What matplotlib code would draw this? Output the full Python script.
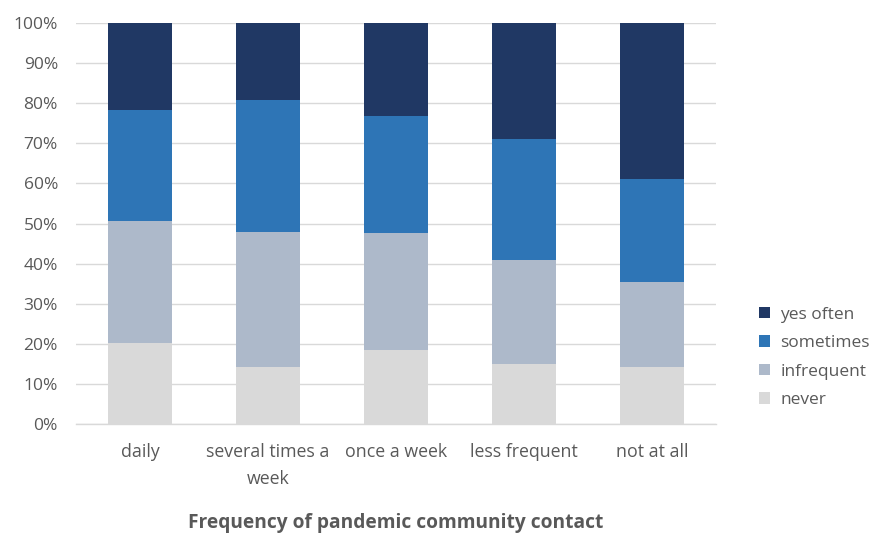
import numpy as np
import matplotlib.pyplot as plt

plt.rcParams['font.family'] = ['Open Sans', 'DejaVu Sans']

categories = ['daily', 'several times a\nweek', 'once a week', 'less frequent', 'not at all']
never = [20.1, 14.2, 18.4, 14.9, 14.2]
infrequent = [30.4, 33.8, 29.2, 26.0, 21.1]
sometimes = [27.8, 32.8, 29.2, 30.2, 25.8]
yes_often = [21.7, 19.2, 23.2, 28.9, 38.9]

series = [('never', never, '#D9D9D9'),
          ('infrequent', infrequent, '#ADB9CA'),
          ('sometimes', sometimes, '#2E75B6'),
          ('yes often', yes_often, '#203864')]

txt = '#595959'
fig = plt.figure(figsize=(8.75, 5.36), dpi=100)
ax = fig.add_axes([76/875, 1-424/536, 640/875, 401/536])

x = np.arange(len(categories))
bottom = np.zeros(len(categories))
handles = []
for name, vals, col in series:
    b = ax.bar(x, vals, 0.5, bottom=bottom, color=col, label=name, zorder=3)
    handles.append(b)
    bottom += np.array(vals)

ax.set_xlim(-0.5, len(categories) - 0.5)
ax.set_ylim(0, 100)
ax.set_yticks(np.arange(0, 101, 10))
ax.set_yticklabels(['%d%%' % v for v in range(0, 101, 10)])
ax.set_xticks(x)
ax.set_xticklabels(categories, linespacing=1.6)
ax.yaxis.grid(True, color='#D9D9D9', linewidth=1, zorder=0)
for s in ['top', 'right', 'left']:
    ax.spines[s].set_visible(False)
ax.spines['bottom'].set_color('#D9D9D9')
ax.spines['bottom'].set_linewidth(1)
ax.tick_params(axis='both', length=0, labelcolor=txt)
ax.tick_params(axis='x', pad=14, labelsize=12.8)
ax.tick_params(axis='y', pad=13, labelsize=12.5)

ax.set_xlabel('Frequency of pandemic community contact', fontsize=13.8,
              fontweight='bold', color=txt, labelpad=18)

fig.legend(handles[::-1], [s[0] for s in series][::-1], loc='center left',
           bbox_to_anchor=(743/875, 1-357.5/536), frameon=False, fontsize=12.5,
           labelcolor=txt, handlelength=0.65, handleheight=0.65, handletextpad=0.6,
           labelspacing=0.72)

fig.savefig('out.png', dpi=100)
